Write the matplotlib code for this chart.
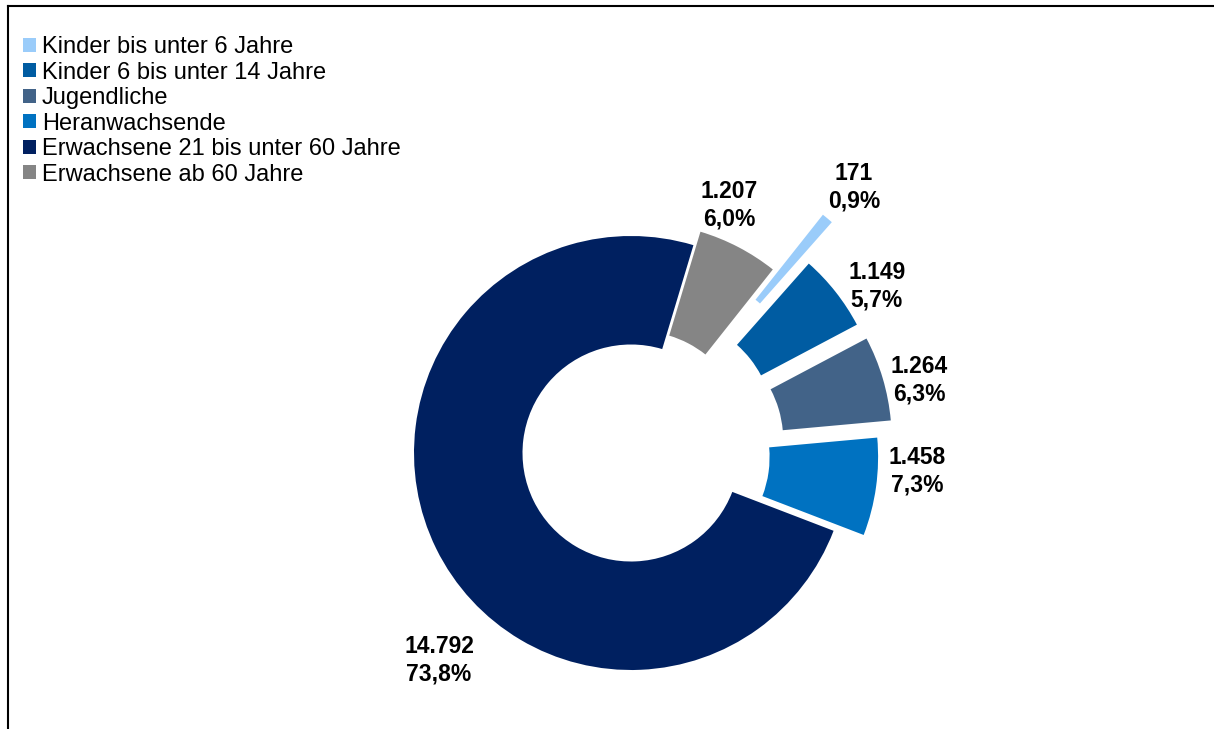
import numpy as np
import matplotlib.pyplot as plt
from matplotlib.lines import Line2D

plt.rcParams['font.family'] = ['Liberation Sans', 'DejaVu Sans']

# Data
categories = ['Kinder bis unter 6 Jahre', 'Kinder 6 bis unter 14 Jahre', 'Jugendliche',
              'Heranwachsende', 'Erwachsene 21 bis unter 60 Jahre', 'Erwachsene ab 60 Jahre']
counts = [171, 1149, 1264, 1458, 14792, 1207]
count_labels = ['171', '1.149', '1.264', '1.458', '14.792', '1.207']
pct_labels = ['0,9%', '5,7%', '6,3%', '7,3%', '73,8%', '6,0%']

colors = ['#9ACCFA', '#005CA2', '#426388', '#0072C1', '#002060', '#858585']
explode = [0.41, 0.2, 0.21, 0.14, 0.0, 0.07]
# label placement (radius factor, angle offset in degrees)
label_r = [1.6, 1.37, 1.37, 1.32, 1.3, 1.23]
label_da = [0, -4, -2.3, 4.3, 21, 6]

W, H = 1214, 729
fig = plt.figure(figsize=(W / 100, H / 100), dpi=100)
ax = fig.add_axes([0, 0, 1, 1])

wedges, _ = ax.pie(counts, colors=colors, explode=explode, startangle=51.6,
                   counterclock=False, radius=1.0,
                   wedgeprops=dict(width=0.5, linewidth=0))

for i, w in enumerate(wedges):
    mid = np.deg2rad((w.theta1 + w.theta2) / 2 + label_da[i])
    r = label_r[i]
    ax.text(r * np.cos(mid), r * np.sin(mid), count_labels[i] + '\n' + pct_labels[i],
            ha='center', va='center', fontsize=16.5, fontweight='bold', linespacing=1.25)

# scale: 217 px per unit, centre at (631, 453) from top
s = 217.0
cx, cy = 631, H - 453
ax.set_xlim(-cx / s, (W - cx) / s)
ax.set_ylim(-cy / s, (H - cy) / s)
ax.set_aspect('auto')
ax.axis('off')

leg = fig.legend(wedges, categories, loc='upper left', bbox_to_anchor=(23 / W, 1 - 36 / H),
                 frameon=False, fontsize=17, handlelength=0.55, handleheight=0.55,
                 handletextpad=0.25, labelspacing=0.15, borderpad=0, borderaxespad=0)

# outer frame (top and left edges visible)
fig.add_artist(Line2D([8 / W, 1.0], [1 - 6 / H, 1 - 6 / H], color='black', linewidth=1.5,
                      transform=fig.transFigure))
fig.add_artist(Line2D([8 / W, 8 / W], [0, 1 - 6 / H], color='black', linewidth=1.5,
                      transform=fig.transFigure))

fig.savefig('out.png', dpi=100)
